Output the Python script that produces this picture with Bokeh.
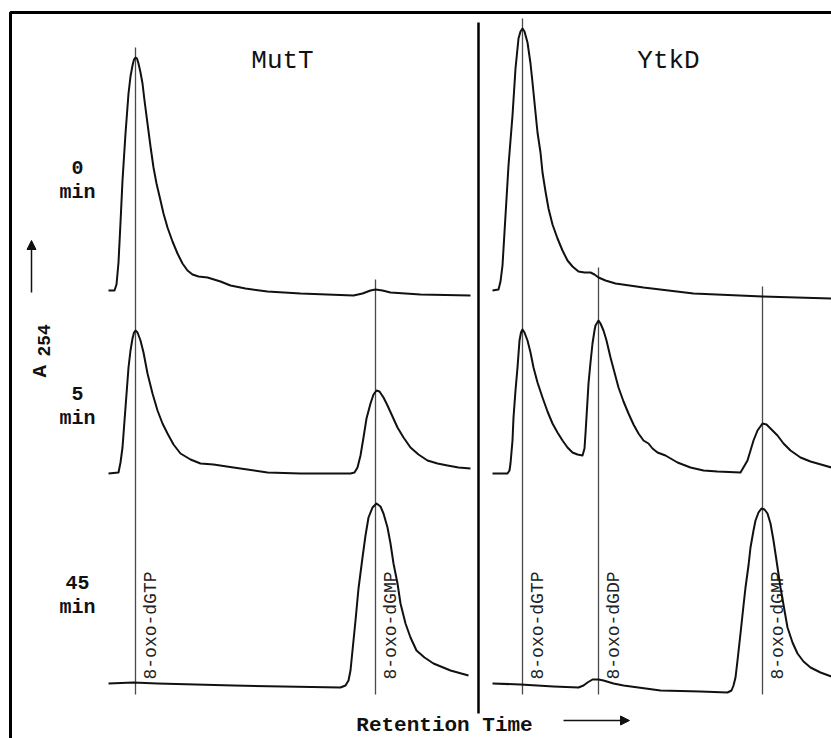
import numpy as np
from bokeh.plotting import figure
from bokeh.models import Range1d, Arrow, NormalHead
from bokeh.core.properties import value
from bokeh.embed import file_html
from bokeh.resources import INLINE

# ---------------- data (retention time in min, absorbance in mAU) ----------------
panels = ["MutT", "YtkD"]
time_labels = ["0", "5", "45"]

compounds = ["8-oxo-dGTP", "8-oxo-dGDP", "8-oxo-dGMP"]
compound_times = [1.25, 5.05, 13.25]
panel_compounds = {"MutT": ["8-oxo-dGTP", "8-oxo-dGMP"],
                   "YtkD": ["8-oxo-dGTP", "8-oxo-dGDP", "8-oxo-dGMP"]}

mutt_0_t = [-0.1, 0.2, 0.3, 0.4, 0.5, 0.6, 0.75, 0.9, 1.0, 1.1, 1.175, 1.25, 1.325, 1.4, 1.5, 1.6, 1.7,
            1.85, 2.0, 2.15, 2.3, 2.5, 2.65, 2.85, 3.1, 3.35, 3.6, 3.85, 4.1, 4.4, 4.85, 5.5, 6.0, 6.75,
            7.85, 9.5, 12.15, 12.6, 13.0, 13.25, 13.6, 14.0, 15.5, 18.0]
mutt_0_a = [0, 0, 24, 112, 272, 440, 628, 788, 856, 900, 924, 932, 928, 908, 872, 828, 760,
            668, 576, 492, 428, 360, 308, 252, 196, 148, 108, 80, 64, 56, 52, 36, 20, 8,
            -4, -12, -20, -12, 0, 4, 0, -8, -16, -20]

mutt_5_t = [-0.1, 0.4, 0.5, 0.6, 0.75, 0.9, 1.0, 1.1, 1.175, 1.25, 1.35, 1.5, 1.65, 1.85, 2.1, 2.35,
            2.6, 2.85, 3.15, 3.5, 4.0, 4.5, 5.15, 6.15, 7.85, 9.5, 12.0, 12.2, 12.35, 12.5, 12.65,
            12.8, 13.0, 13.15, 13.3, 13.45, 13.65, 13.85, 14.1, 14.35, 14.65, 15.0, 15.4, 15.85,
            16.35, 16.85, 17.4, 18.0]
mutt_5_a = [0, 4, 44, 104, 264, 424, 492, 540, 564, 572, 564, 532, 484, 400, 320, 252,
            200, 160, 116, 80, 56, 40, 36, 24, 4, 0, 0, 4, 24, 72, 144,
            220, 280, 316, 332, 328, 304, 272, 228, 184, 144, 104, 76, 52,
            40, 32, 24, 20]

mutt_45_t = [-0.1, 1.15, 2.35, 6.15, 11.5, 11.75, 11.9, 12.0, 12.1, 12.25, 12.4, 12.6, 12.75, 12.9,
             13.1, 13.3, 13.5, 13.65, 13.85, 14.0, 14.15, 14.35, 14.5, 14.75, 15.0, 15.3, 15.7,
             16.15, 17.0, 17.9]
mutt_45_a = [0, 4, 0, -8, -16, -8, 12, 52, 132, 252, 380, 504, 592, 664,
             704, 720, 708, 680, 624, 560, 480, 400, 320, 240, 184, 132, 104,
             80, 52, 32]

ytkd_0_t = [-0.25, 0.05, 0.15, 0.25, 0.4, 0.55, 0.75, 0.9, 1.05, 1.15, 1.25, 1.35, 1.5, 1.65, 1.75,
            1.9, 2.0, 2.15, 2.25, 2.4, 2.55, 2.75, 3.0, 3.25, 3.5, 3.75, 4.05, 4.35, 4.65, 4.85,
            5.05, 5.4, 5.9, 7.3, 9.8, 13.25, 16.7]
ytkd_0_a = [0, 4, 36, 100, 300, 500, 700, 888, 1008, 1036, 1048, 1036, 992, 908, 832,
            712, 632, 552, 472, 396, 328, 264, 208, 160, 120, 96, 76, 72, 72, 64,
            52, 40, 28, 12, -12, -24, -32]

ytkd_5_t = [-0.25, 0.5, 0.6, 0.65, 0.75, 0.8, 0.9, 1.0, 1.1, 1.175, 1.25, 1.35, 1.5, 1.65, 1.8,
            2.0, 2.25, 2.5, 2.75, 3.0, 3.25, 3.5, 3.75, 4.0, 4.25, 4.35, 4.4, 4.5, 4.55, 4.65,
            4.75, 4.85, 4.9, 5.05, 5.15, 5.3, 5.45, 5.65, 5.85, 6.05, 6.3, 6.55, 6.8, 7.05, 7.3,
            7.55, 7.75, 8.0, 8.4, 9.0, 9.65, 10.3, 11.0, 12.15, 12.5, 12.8, 13.0, 13.25, 13.45,
            13.65, 14.0, 14.3, 14.65, 15.15, 15.65, 16.0, 16.7]
ytkd_5_a = [0, 0, 12, 40, 132, 224, 332, 424, 532, 564, 576, 564, 532, 484, 424,
            364, 304, 248, 200, 164, 132, 104, 84, 76, 72, 100, 160, 292, 360, 444,
            520, 572, 592, 612, 600, 572, 532, 464, 404, 344, 288, 240, 196, 160, 132,
            120, 100, 84, 72, 44, 24, 12, 8, 4, 52, 132, 172, 200, 196,
            180, 152, 120, 92, 64, 48, 40, 24]

ytkd_45_t = [-0.25, 1.15, 2.8, 4.05, 4.3, 4.5, 4.75, 5.05, 5.3, 5.8, 6.3, 8.15, 10.15, 11.5, 11.7,
             11.8, 11.9, 12.0, 12.15, 12.3, 12.4, 12.55, 12.65, 12.8, 12.9, 13.05, 13.2, 13.35,
             13.5, 13.65, 13.8, 13.95, 14.15, 14.35, 14.5, 14.75, 15.0, 15.3, 15.65, 16.15, 16.7]
ytkd_45_a = [0, -4, -12, -16, -8, 4, 16, 16, 12, 0, -8, -28, -32, -36, -28,
             -8, 24, 92, 200, 312, 384, 472, 544, 612, 652, 684, 700, 696,
             680, 640, 572, 492, 384, 292, 224, 164, 120, 88, 64, 44, 28]

traces = {
    ("MutT", "0"): (mutt_0_t, mutt_0_a),
    ("MutT", "5"): (mutt_5_t, mutt_5_a),
    ("MutT", "45"): (mutt_45_t, mutt_45_a),
    ("YtkD", "0"): (ytkd_0_t, ytkd_0_a),
    ("YtkD", "5"): (ytkd_5_t, ytkd_5_a),
    ("YtkD", "45"): (ytkd_45_t, ytkd_45_a),
}

# ---------------- layout (page pixel space) ----------------
PANEL_X0 = {"MutT": 110, "YtkD": 497}
PX_PER_MIN = 20.0
PX_PER_MAU = 0.25
BASE_Y = {"0": 290, "5": 473, "45": 683}
TITLE_X = {"MutT": 282, "YtkD": 668}
LABEL_BASE = {"0": 167, "5": 393, "45": 582}

MONO = value("Liberation Mono")
INK = "#111111"

def tx(panel, t):
    return PANEL_X0[panel] + PX_PER_MIN * np.asarray(t, dtype=float)

def ay(tp, a):
    return BASE_Y[tp] - PX_PER_MAU * np.asarray(a, dtype=float)

p = figure(width=831, height=738, x_range=Range1d(0, 831), y_range=Range1d(738, 0),
           output_backend="svg", toolbar_location=None, min_border=0,
           x_axis_location=None, y_axis_location=None)
p.xgrid.visible = False
p.ygrid.visible = False
p.outline_line_color = None
p.background_fill_color = "white"
p.border_fill_color = "white"

# outer frame (left and top) and panel divider
p.line([10, 10, 831], [738, 12, 12], line_color="black", line_width=3)
p.segment(x0=[478], y0=[22], x1=[478], y1=[713], line_color="black", line_width=2.5)

# compound marker lines + rotated labels
for panel in panels:
    t0, a0 = traces[(panel, "0")]
    for c in panel_compounds[panel]:
        t = compound_times[compounds.index(c)]
        x = float(tx(panel, t))
        top = float(ay("0", np.interp(t, t0, a0))) - 10
        p.segment(x0=[x], y0=[top], x1=[x], y1=[BASE_Y["45"] + 11],
                  line_color="#4a4a4a", line_width=1.3)
        p.text(x=[x + 15], y=[679], text=[c], angle=np.pi / 2, text_align="left",
               text_baseline="alphabetic", text_font=MONO, text_font_size="18px",
               text_color="#222222")

# chromatogram traces
for (panel, tp), (t, a) in traces.items():
    p.line(tx(panel, t), ay(tp, a), line_color=INK, line_width=2, line_join="round")

# panel titles
for panel in panels:
    p.text(x=[TITLE_X[panel]], y=[60], text=[panel], text_align="center",
           text_baseline="alphabetic", text_font=MONO, text_font_size="26px",
           text_color=INK)

# time labels
for tp in time_labels:
    p.text(x=[77], y=[LABEL_BASE[tp]], text=[tp], text_align="center",
           text_baseline="alphabetic", text_font=MONO, text_font_size="20px",
           text_font_style="bold", text_color=INK)
    p.text(x=[77], y=[LABEL_BASE[tp] + 25], text=["min"], text_align="center",
           text_baseline="alphabetic", text_font=MONO, text_font_size="20px",
           text_font_style="bold", text_color=INK)

# y-axis annotation A254 with arrow
p.text(x=[40], y=[377], text=["A"], angle=np.pi / 2, text_align="left",
       text_baseline="alphabetic", text_font=MONO, text_font_size="21px",
       text_font_style="bold", text_color=INK)
p.text(x=[43], y=[356], text=["254"], angle=np.pi / 2, text_align="left",
       text_baseline="alphabetic", text_font=MONO, text_font_size="18px",
       text_font_style="bold", text_color=INK)
p.add_layout(Arrow(end=NormalHead(size=9, fill_color=INK, line_color=INK),
                   x_start=31, y_start=292, x_end=31, y_end=240,
                   line_color=INK, line_width=1.5))

# x-axis annotation
p.text(x=[444], y=[725], text=["Retention Time"], text_align="center",
       text_baseline="alphabetic", text_font=MONO, text_font_size="21px",
       text_font_style="bold", text_color=INK)
p.add_layout(Arrow(end=NormalHead(size=9, fill_color=INK, line_color=INK),
                   x_start=563, y_start=720, x_end=629, y_end=720,
                   line_color=INK, line_width=1.5))

open("out.html", "w").write(file_html(p, INLINE))
